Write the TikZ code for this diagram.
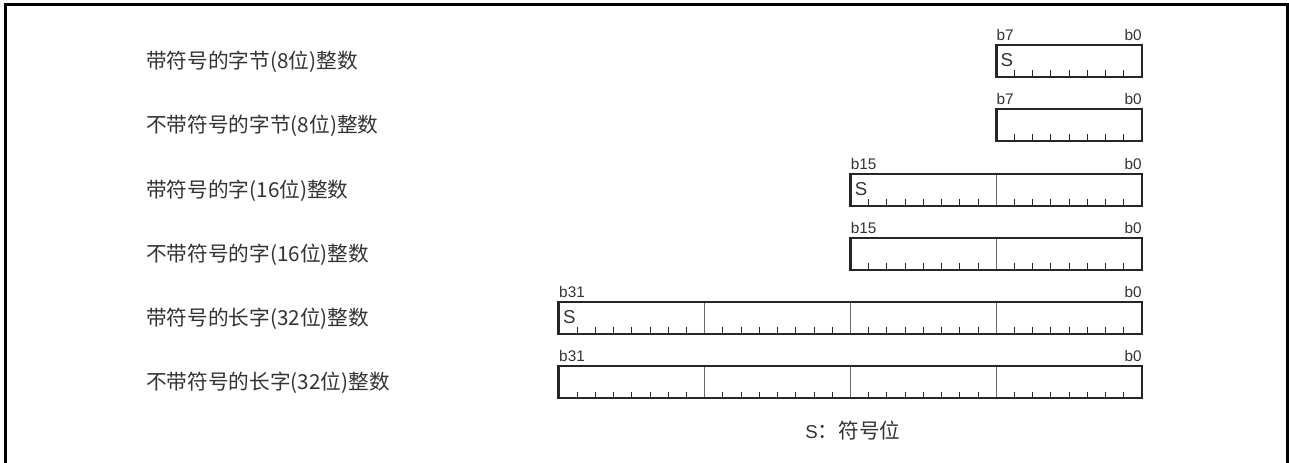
\documentclass[tikz,border=0pt]{standalone}
\usepackage{fontspec}
\setmainfont{Liberation Sans}
\newfontfamily\cjk{Noto Sans CJK SC}
\definecolor{ink}{HTML}{262626}
\definecolor{txt}{HTML}{333333}
\begin{document}
\begin{tikzpicture}[x=0.75pt,y=-0.75pt,
  rowlabel/.style={anchor=west,inner sep=0pt,text=txt,font=\cjk\fontsize{15.5}{17}\selectfont},
  bitlabel/.style={inner sep=0pt,text=txt,font=\fontsize{11.5}{13}\selectfont},
  signlabel/.style={anchor=north west,inner sep=0pt,text=txt,font=\fontsize{14}{16}\selectfont},
  regbox/.style={draw=ink,line width=2.2pt},
  bytesep/.style={draw=ink!70,line width=0.8pt},
  bittick/.style={draw=ink,line width=0.7pt}]
\useasboundingbox (0,0) rectangle (1289,463);
\fill[white] (0,0) rectangle (1289,463);
\draw[line width=2.4pt] (5.5,480) -- (5.5,4.5) -- (1287.5,4.5) -- (1287.5,480);
\def\R{1142}
\def\W{18.22}
\foreach \top/\n/\lab/\hi/\sg/\nm in {
  45/8/带符号的字节(8位)整数/b7/1/ra,
  109/8/不带符号的字节(8位)整数/b7/0/rb,
  174/16/带符号的字(16位)整数/b15/1/rc,
  238/16/不带符号的字(16位)整数/b15/0/rd,
  302/32/带符号的长字(32位)整数/b31/1/re,
  366/32/不带符号的长字(32位)整数/b31/0/rf}{
  \pgfmathsetmacro{\L}{\R-\n*\W}
  \pgfmathsetmacro{\B}{\top+32}
  \node[rowlabel] (\nm-t) at (146,\top+17) {\lab};
  \foreach \i in {1,...,\numexpr\n-1\relax}{
    \pgfmathsetmacro{\xx}{\L+\i*\W}
    \pgfmathtruncatemacro{\m}{mod(\i,8)}
    \ifnum\m=0
      \draw[bytesep] (\xx,\top) -- (\xx,\B);
    \else
      \draw[bittick] (\xx,\B) -- (\xx,\B-6.5);
    \fi
  }
  \draw[regbox] (\L,\top) rectangle (\R,\B);
  \node[bitlabel,anchor=south west] (\nm-h) at (\L,\top-4.5) {\hi};
  \node[bitlabel,anchor=south east] (\nm-l) at (\R,\top-4.5) {b0};
  \ifnum\sg=1
    \node[signlabel] (\nm-s) at (\L+4,\top+8.5) {S};
  \fi
}
\node[anchor=west,inner sep=0pt,text=txt] (note) at (805,431)
  {\fontsize{14}{16}\selectfont S\cjk{\fontsize{15.5}{17}\selectfont ：符号位}};
\end{tikzpicture}
\end{document}
